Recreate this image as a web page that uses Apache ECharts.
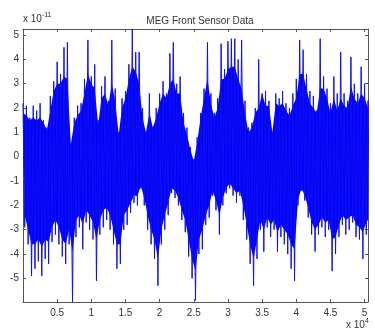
<!DOCTYPE html>
<html><head><meta charset="utf-8">
<script src="https://cdn.jsdelivr.net/npm/echarts@6/dist/echarts.min.js"></script>
<style>html,body{margin:0;padding:0;background:#fff}#c{width:375px;height:333px}</style>
</head><body><div id="c"></div>
<script>
const chartTitle = 'MEG Front Sensor Data';
const sampleStep = 500;
// outer envelope (peaks) of the signal, units of 1e-11, one pair per 500 samples
const upperEnv = [2.2,2.1,1.6,2.1,1.9,2.2,1.5,1.2,2.5,3.1,
 3.9,3.4,4.5,4.7,0.5,1.6,2.1,2.2,3.2,4.8,
 3.3,3.8,1.5,2.9,3.3,2.3,4.8,2.8,1.0,2.4,
 2.7,3.8,5.25,4.3,4.3,2.0,1.0,2.6,1.2,2.0,
 2.6,3.1,2.6,4.25,4.7,3.0,3.3,1.8,1.2,0.4,
 -0.1,0.8,1.8,2.8,4.7,2.6,1.8,2.4,4.65,3.6,
 4.75,4.85,4.85,4.0,4.8,2.3,1.2,1.4,2.0,4.0,
 2.6,2.7,2.3,1.0,2.6,2.4,2.7,2.2,2.0,2.6,
 3.2,4.8,4.4,3.4,2.7,2.5,1.9,4.85,3.3,2.8,
 2.2,3.3,2.6,4.3,2.6,2.3,4.1,3.0,2.6,3.7,
 3.0,2.3];
const lowerEnv = [-2.9,-3.6,-4.9,-4.6,-4.3,-4.9,-4.2,-4.4,-3.5,-3.2,
 -3.6,-4.1,-4.4,-3.6,-5.97,-3.3,-2.9,-3.8,-2.7,-3.0,
 -3.4,-5.1,-3.2,-2.9,-2.6,-3.0,-3.6,-4.6,-4.4,-3.0,
 -2.8,-2.3,-1.9,-2.0,-1.3,-2.0,-3.0,-3.6,-4.2,-5.3,
 -3.6,-3.0,-2.4,-1.5,-1.7,-2.0,-2.6,-3.1,-4.1,-5.0,
 -5.9,-4.0,-3.8,-2.8,-2.5,-1.6,-2.2,-3.2,-2.0,-1.5,
 -1.3,-1.6,-1.9,-1.6,-2.6,-3.4,-4.4,-5.3,-4.2,-3.0,
 -3.9,-2.9,-3.3,-3.0,-3.9,-3.3,-3.6,-4.0,-4.6,-5.1,
 -2.0,-1.4,-1.8,-2.5,-3.2,-3.9,-3.2,-2.9,-3.3,-3.0,
 -4.7,-4.0,-3.3,-2.8,-3.2,-3.0,-2.7,-3.3,-3.4,-4.2,
 -3.2,-2.9];
// dense (solid) core of the trace, same columns
const coreUpper = [1.8,1.7,1.5,1.6,1.5,1.6,1.4,1.1,1.9,
 2.7,3.0,3.0,3.3,3.2,
 0.5,
 1.4,1.7,1.9,
 2.6,3.4,3.0,2.8,
 1.3,
 2.4,2.6,2.1,3.0,2.3,
 0.9,
 2.0,2.4,3.2,3.7,3.5,3.0,
 1.6,1.0,1.8,1.2,1.6,
 2.2,2.6,2.4,3.0,3.2,2.6,2.6,
 1.4,0.9,0.3,-0.2,0.6,
 1.6,2.4,3.2,2.2,1.6,2.0,
 3.2,3.2,3.6,3.7,3.7,3.2,2.8,
 1.8,1.0,1.2,
 1.8,2.0,2.6,2.1,2.1,1.0,2.2,2.1,2.2,1.9,1.7,2.1,2.4,
 3.4,3.4,2.8,
 2.2,2.0,1.8,2.8,2.8,2.4,1.8,2.4,1.9,2.4,2.1,2.0,2.9,2.4,2.2,2.6,2.4,2.0];
const coreLower = [-2.4,-3.0,-3.6,-3.6,-3.4,-3.7,-3.4,-3.5,-2.9,
 -2.6,-2.9,-3.4,-3.6,-3.0,
 -3.9,
 -2.6,-2.4,-2.8,
 -2.2,-2.4,-2.7,-3.4,
 -2.6,
 -2.2,-2.1,-2.4,-3.0,-3.6,
 -3.6,
 -2.4,-2.2,-1.9,-1.6,-1.6,-1.2,
 -1.7,-2.4,-3.0,-3.4,-4.2,
 -3.0,-2.4,-1.9,-1.3,-1.4,-1.7,-2.2,
 -2.6,-3.4,-4.2,-4.7,-3.4,
 -3.0,-2.4,-2.0,-1.4,-1.8,-2.4,
 -1.7,-1.3,-1.1,-1.3,-1.5,-1.4,-2.0,
 -2.8,-3.6,-4.2,
 -3.4,-2.6,-3.0,-2.5,-2.8,-2.6,-3.1,-2.8,-3.0,-3.2,-3.6,-3.8,-1.8,
 -1.3,-1.6,-2.1,
 -2.7,-3.0,-2.8,-2.5,-2.7,-2.6,-3.4,-3.3,-2.8,-2.4,-2.6,-2.5,-2.4,-2.8,-2.9,-3.1,-2.7,-2.5];
const xTicks = [5000,10000,15000,20000,25000,30000,35000,40000,45000,50000];
const xTickLabels = ['0.5','1','1.5','2','2.5','3','3.5','4','4.5','5'];
const yTicks = [-5,-4,-3,-2,-1,0,1,2,3,4,5];
const xRange = [0, 50500];
const yRange = [-5.97, 5.25];

const signal = [];
for (let i = 0; i < upperEnv.length; i++) {
  signal.push([i * sampleStep, upperEnv[i]]);
  signal.push([i * sampleStep + sampleStep / 2, lowerEnv[i]]);
}

const axisColor = '#555';
const font = 'Liberation Sans, Arial, sans-serif';
const chart = echarts.init(document.getElementById('c'), null, {renderer: 'canvas'});
const xCommon = {
  type: 'value', min: xRange[0], max: xRange[1],
  axisLine: {show: true, onZero: false, lineStyle: {color: axisColor, width: 1}},
  axisTick: {show: true, inside: true, length: 3, customValues: xTicks, lineStyle: {color: axisColor}},
  splitLine: {show: false}
};
const yCommon = {
  type: 'value', min: yRange[0], max: yRange[1],
  axisLine: {show: true, onZero: false, lineStyle: {color: axisColor, width: 1}},
  axisTick: {show: true, inside: true, length: 3, customValues: yTicks, lineStyle: {color: axisColor}},
  splitLine: {show: false}
};
chart.setOption({
  animation: false,
  backgroundColor: '#fff',
  title: {text: chartTitle, left: 195, top: 11, textAlign: 'center',
    textStyle: {fontFamily: font, fontSize: 10, fontWeight: 'normal', color: '#333'}},
  grid: {left: 23, right: 7, top: 29, bottom: 31, show: false},
  xAxis: [
    Object.assign({}, xCommon, {position: 'bottom',
      axisLabel: {show: true, customValues: xTicks, margin: 6, fontFamily: font, fontSize: 10, color: '#333',
        formatter: v => xTickLabels[xTicks.indexOf(v)] || ''}}),
    Object.assign({}, xCommon, {position: 'top', axisLabel: {show: false}})
  ],
  yAxis: [
    Object.assign({}, yCommon, {position: 'left',
      axisLabel: {show: true, customValues: yTicks, margin: 4, fontFamily: font, fontSize: 10, color: '#333'}}),
    Object.assign({}, yCommon, {position: 'right', axisLabel: {show: false}})
  ],
  graphic: [
    {type: 'text', left: 23, top: 12, style: {text: 'x 10{s|-11}', fontFamily: font, fontSize: 10, fill: '#333',
      rich: {s: {fontSize: 7, padding: [0,0,7,0], fontFamily: font, fill: '#333'}}}},
    {type: 'text', left: 346, top: 318, style: {text: 'x 10{s|4}', fontFamily: font, fontSize: 10, fill: '#333',
      rich: {s: {fontSize: 7, padding: [0,0,7,0], fontFamily: font, fill: '#333'}}}}
  ],
  series: [
    {
      type: 'custom', xAxisIndex: 0, yAxisIndex: 0, data: [0], clip: true, z: 2,
      renderItem: function (params, api) {
        const pts = [];
        for (let i = 0; i < coreUpper.length; i++) pts.push(api.coord([i * sampleStep, coreUpper[i]]));
        for (let i = coreLower.length - 1; i >= 0; i--) pts.push(api.coord([i * sampleStep + sampleStep / 2, coreLower[i]]));
        return {type: 'polygon', shape: {points: pts}, style: {fill: '#0000ff'}};
      }
    },
    {
      type: 'line', data: signal, showSymbol: false, symbol: 'none', z: 3,
      xAxisIndex: 0, yAxisIndex: 0,
      lineStyle: {color: '#1010f0', width: 1}, clip: true
    }
  ]
});
</script></body></html>
